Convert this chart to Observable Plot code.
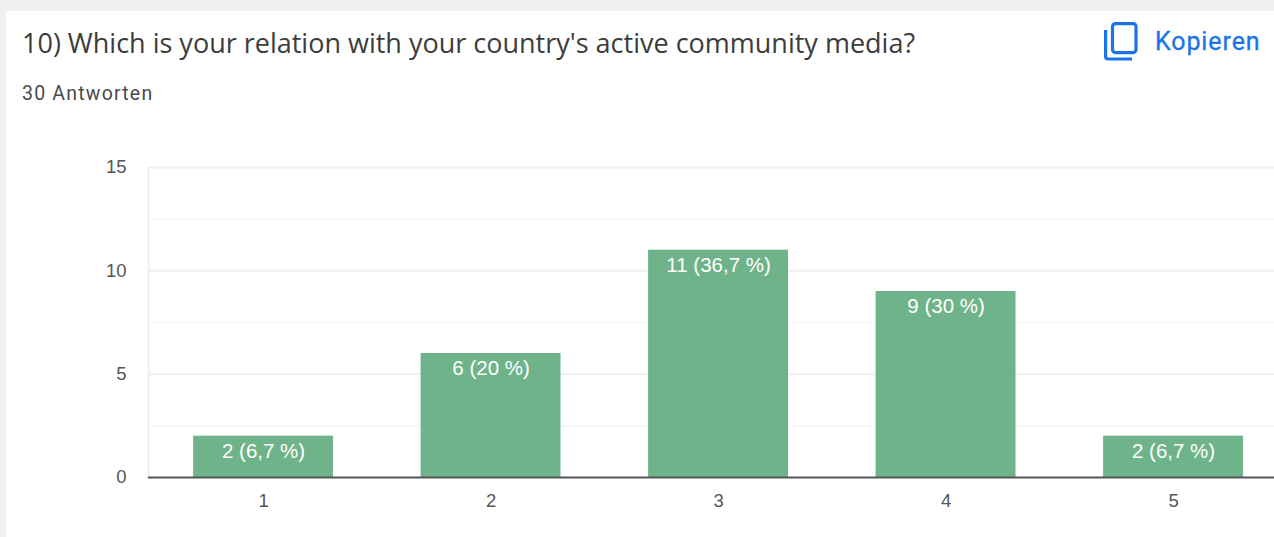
<!DOCTYPE html>
<html>
<head>
<meta charset="utf-8">
<script src="https://cdn.jsdelivr.net/npm/d3@7"></script>
<script src="https://cdn.jsdelivr.net/npm/@observablehq/plot@0.6"></script>
<style>
  html, body { margin: 0; padding: 0; width: 1274px; height: 537px; overflow: hidden; background: #f0f0f0; }
  #card { position: absolute; left: 6px; top: 11px; width: 1268px; height: 526px; background: #fff; overflow: hidden; }
  #title { position: absolute; left: 16px; top: 13px; font: 400 27px 'Open Sans', sans-serif; color: #3c3c3c; white-space: nowrap; }
  #subtitle { position: absolute; left: 16px; top: 71px; font: 400 19.5px Roboto, sans-serif; letter-spacing: 1.2px; color: #4a4a4a; white-space: nowrap; }
  #copy { position: absolute; left: 1098px; top: 11px; color: #1a73e8; font: 400 25px Roboto, sans-serif; }
  #copy svg { display: block; }
  #copy span { position: absolute; left: 51px; top: 5px; letter-spacing: .9px; white-space: nowrap; -webkit-text-stroke: .3px #1a73e8; }
  #chart { position: absolute; left: -6px; top: 139px; width: 1340px; }
  #chart svg { display: block; max-width: none; }
</style>
</head>
<body>
<div id="card">
  <div id="title">10) Which is your relation with your country's active community media?</div>
  <div id="subtitle">30 Antworten</div>
  <div id="copy">
    <svg width="34" height="39" viewBox="0 0 34 39" fill="none" stroke="#1a73e8" stroke-width="3.2">
      <rect x="8.5" y="1.6" width="23.5" height="29" rx="3"/>
      <path d="M1.6 8 V34.5 a2.5 2.5 0 0 0 2.5 2.5 H28"/>
    </svg>
    <span>Kopieren</span>
  </div>
  <div id="chart"></div>
</div>
<script>
// Responses per answer option
const options = [1, 2, 3, 4, 5];
const counts = [2, 6, 11, 9, 2];
const labels = ["2 (6,7 %)", "6 (20 %)", "11 (36,7 %)", "9 (30 %)", "2 (6,7 %)"];
const majorTicks = [0, 5, 10, 15];
const minorTicks = [2.5, 7.5, 12.5];

const rows = options.map((option, i) => ({option, count: counts[i], label: labels[i]}));
const font = "'Liberation Sans', Arial, sans-serif";

const chart = Plot.plot({
  width: 1340,
  height: 380,
  marginTop: 17,
  marginBottom: 53,
  marginLeft: 148,
  marginRight: 0,
  style: {background: "transparent", fontFamily: font, overflow: "visible"},
  x: {type: "band", domain: options, range: [105.5, 1330.6], padding: 0.385, round: false, label: null, tickSize: 0, tickPadding: 16},
  y: {domain: [0, 15], label: null, ticks: majorTicks, tickSize: 0, tickPadding: 22},
  marks: [
    Plot.ruleY(minorTicks, {stroke: "#f6f6f6", strokeWidth: 1.5}),
    Plot.ruleY(majorTicks.slice(1), {stroke: "#efefef", strokeWidth: 2}),
    Plot.frame({anchor: "left", stroke: "#efefef", strokeWidth: 2}),
    Plot.barY(rows, {x: "option", y: "count", fill: "#6fb38a"}),
    Plot.ruleY([0], {stroke: "#555", strokeWidth: 2}),
    Plot.text(rows, {x: "option", y: "count", text: "label", dy: 15, fill: "#fff", fontSize: 20.5, lineAnchor: "middle"})
  ]
});
chart.querySelectorAll("[aria-label='x-axis tick label'] text, [aria-label='y-axis tick label'] text").forEach(t => {
  t.style.fontSize = "18.5px";
  t.setAttribute("fill", "#555");
});
document.getElementById("chart").append(chart);
</script>
</body>
</html>
